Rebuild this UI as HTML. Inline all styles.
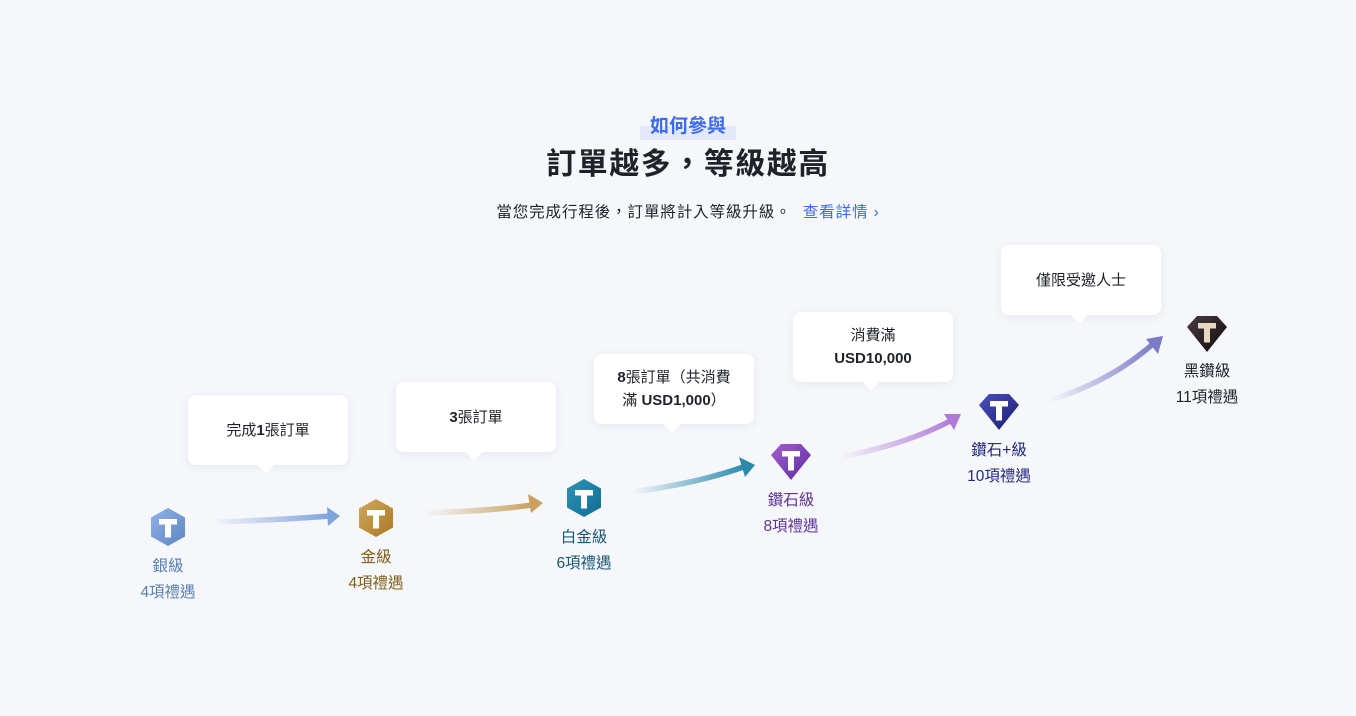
<!DOCTYPE html>
<html><head><meta charset="utf-8"><style>
*{margin:0;padding:0;box-sizing:border-box}
body{width:1356px;height:716px;background:#f5f7fb;position:relative;overflow:hidden;font-family:"Liberation Sans","Noto Sans CJK TC",sans-serif;color:#1f2329}
.a{position:absolute}
.c{position:absolute;transform:translateX(-50%);white-space:nowrap;text-align:center}
.card{position:absolute;width:160px;height:70px;background:#fff;border-radius:8px;box-shadow:0 2px 10px rgba(30,40,80,.07);display:flex;align-items:center;justify-content:center;text-align:center;font-size:15px;line-height:23px;color:#1f2329}
.card:after{content:"";position:absolute;left:72px;bottom:-6px;width:12px;height:12px;background:#fff;transform:rotate(45deg)}
.lbl{font-size:15.5px;line-height:26px}
</style></head><body>
<div class="a" style="left:640px;top:126px;width:96px;height:14px;background:#e3e9fb"></div>
<div class="c" style="left:688px;top:114px;font-size:19px;font-weight:bold;color:#3d6bef;line-height:26px">如何參與</div>
<div class="c" style="left:688px;top:145px;font-size:30px;font-weight:bold;letter-spacing:1.5px;line-height:40px">訂單越多，等級越高</div>
<div class="c" style="left:688px;top:202px;font-size:15.5px;line-height:22px;letter-spacing:0.9px">當您完成行程後，訂單將計入等級升級。 <span style="color:#3d6bef;margin-left:6px">查看詳情 ›</span></div>

<div class="card" style="left:188px;top:395px">完成<b>1</b>張訂單</div>
<div class="card" style="left:396px;top:382px"><span><b>3</b>張訂單</span></div>
<div class="card" style="left:594px;top:354px"><span><b>8</b>張訂單（共消費<br>滿 <b>USD1,000</b>）</span></div>
<div class="card" style="left:793px;top:312px"><span>消費滿<br><b>USD10,000</b></span></div>
<div class="card" style="left:1001px;top:245px">僅限受邀人士</div>

<svg class="a" style="left:0;top:0" width="1356" height="716">
<defs>
<linearGradient id="g1" x1="0" x2="1"><stop offset="0" stop-color="#7fa3dd" stop-opacity="0"/><stop offset="1" stop-color="#7fa3dd"/></linearGradient>
<linearGradient id="g2" x1="0" x2="1"><stop offset="0" stop-color="#c9a060" stop-opacity="0"/><stop offset="1" stop-color="#c9a060"/></linearGradient>
<linearGradient id="g3" x1="0" x2="1"><stop offset="0" stop-color="#2a8aab" stop-opacity="0"/><stop offset="1" stop-color="#2a8aab"/></linearGradient>
<linearGradient id="g4" x1="0" x2="1"><stop offset="0" stop-color="#b07ad8" stop-opacity="0"/><stop offset="1" stop-color="#b07ad8"/></linearGradient>
<linearGradient id="g5" x1="0" x2="1"><stop offset="0" stop-color="#7a7cc8" stop-opacity="0"/><stop offset="1" stop-color="#7a7cc8"/></linearGradient>
<linearGradient id="hs" x1="0" y1="0" x2="1" y2="1"><stop offset="0" stop-color="#8fb1e6"/><stop offset="1" stop-color="#5f86c3"/></linearGradient>
<linearGradient id="hg" x1="0" y1="0" x2="1" y2="1"><stop offset="0" stop-color="#d2a962"/><stop offset="1" stop-color="#a87820"/></linearGradient>
<linearGradient id="hp" x1="0" y1="0" x2="1" y2="1"><stop offset="0" stop-color="#2e94b6"/><stop offset="1" stop-color="#0f6c93"/></linearGradient>
<linearGradient id="hd" x1="0" y1="0" x2="1" y2="1"><stop offset="0" stop-color="#a45fd0"/><stop offset="1" stop-color="#5a2a9e"/></linearGradient>
<linearGradient id="hd2" x1="0" y1="0" x2="1" y2="1"><stop offset="0" stop-color="#4a50c0"/><stop offset="1" stop-color="#1a1d6e"/></linearGradient>
<linearGradient id="hb" x1="0" y1="0" x2="1" y2="1"><stop offset="0" stop-color="#4a3c40"/><stop offset="1" stop-color="#0e0a0c"/></linearGradient>
</defs>
<path d="M212 522 Q280 520 330 516" stroke="url(#g1)" stroke-width="5.5" fill="none"/>
<polygon points="327,507 340,516 328,526" fill="#7fa3dd"/>
<path d="M425 513 Q490 511 532 505" stroke="url(#g2)" stroke-width="5.5" fill="none"/>
<polygon points="528,494 543,503 531,513" fill="#c9a060"/>
<path d="M632 492 Q700 483 746 466" stroke="url(#g3)" stroke-width="5.5" fill="none"/>
<polygon points="739,457 755,465 745,477" fill="#2a8aab"/>
<path d="M840 457 Q905 445 952 420" stroke="url(#g4)" stroke-width="5.5" fill="none"/>
<polygon points="944,414 961,414 954,430" fill="#b07ad8"/>
<path d="M1050 400 Q1110 382 1154 343" stroke="url(#g5)" stroke-width="5.5" fill="none"/>
<polygon points="1146,339 1163,336 1158,354" fill="#7a7cc8"/>

<g transform="translate(168,527)"><polygon points="0,-19 17,-9.5 17,9.5 0,19 -17,9.5 -17,-9.5" fill="url(#hs)"/><path d="M-9,-8h18v5.5h-6v13h-6v-13h-6z" fill="#fff"/></g>
<g transform="translate(376,518)"><polygon points="0,-19 17,-9.5 17,9.5 0,19 -17,9.5 -17,-9.5" fill="url(#hg)"/><path d="M-9,-8h18v5.5h-6v13h-6v-13h-6z" fill="#fff"/></g>
<g transform="translate(584,498)"><polygon points="0,-19 17,-9.5 17,9.5 0,19 -17,9.5 -17,-9.5" fill="url(#hp)"/><path d="M-9,-8h18v5.5h-6v13h-6v-13h-6z" fill="#fff"/></g>
<g transform="translate(791,461)"><polygon points="-10,-17 10,-17 20,-6 0,19 -20,-6" fill="url(#hd)"/><path d="M-9,-10h18v5.5h-6v14h-6v-14h-6z" fill="#fff"/></g>
<g transform="translate(999,411)"><polygon points="-10,-17 10,-17 20,-6 0,19 -20,-6" fill="url(#hd2)"/><path d="M-9,-10h18v5.5h-6v14h-6v-14h-6z" fill="#fff"/></g>
<g transform="translate(1207,333)"><polygon points="-10,-17 10,-17 20,-6 0,19 -20,-6" fill="url(#hb)"/><path d="M-9,-10h18v5.5h-6v14h-6v-14h-6z" fill="#e8d8c0"/></g>
</svg>

<div class="c lbl" style="left:168px;top:554px;color:#5a7fb0">銀級<br>4項禮遇</div>
<div class="c lbl" style="left:376px;top:545px;color:#80601a">金級<br>4項禮遇</div>
<div class="c lbl" style="left:584px;top:525px;color:#1b5775">白金級<br>6項禮遇</div>
<div class="c lbl" style="left:791px;top:488px;color:#5f3496">鑽石級<br>8項禮遇</div>
<div class="c lbl" style="left:999px;top:438px;color:#24287e">鑽石+級<br>10項禮遇</div>
<div class="c lbl" style="left:1207px;top:359px;color:#1f2329">黑鑽級<br>11項禮遇</div>
</body></html>
